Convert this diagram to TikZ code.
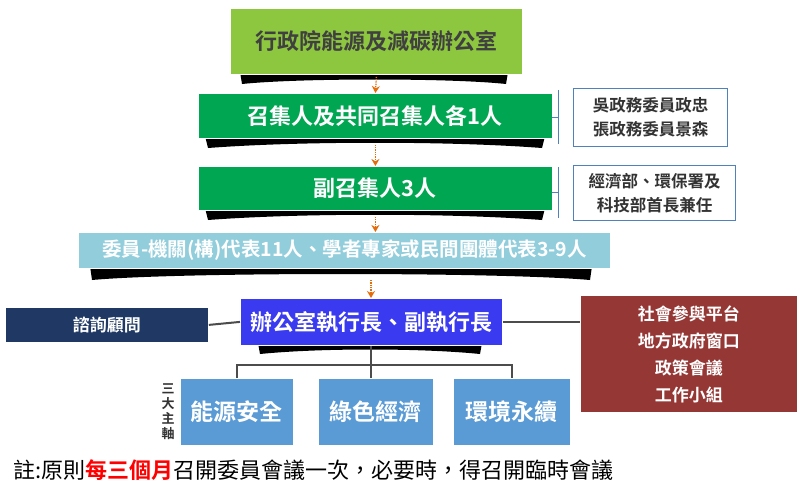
\documentclass[tikz,border=0pt]{standalone}
\usepackage{fontspec}
\setmainfont{Noto Sans CJK TC}
\newfontfamily\cjkb{Noto Sans CJK TC Bold}
\usetikzlibrary{arrows.meta}
\definecolor{lg}{HTML}{8DC63F}
\definecolor{dg}{HTML}{00A651}
\definecolor{lb}{HTML}{92CDDC}
\definecolor{nv}{HTML}{1F3864}
\definecolor{rd}{HTML}{953735}
\definecolor{bb}{HTML}{5B9BD5}
\definecolor{bbl}{HTML}{3A3AF0}
\definecolor{brk}{HTML}{4F81BD}
\definecolor{org}{HTML}{E46C0A}
\begin{document}
\begin{tikzpicture}[x=1pt,y=-1pt,
  bx/.style={anchor=north west,inner sep=0pt,text=white,font=\cjkb\fontsize{22}{26}\selectfont,draw=white,line width=0.8pt},
  sd/.style={fill=black},
  dar/.style={org,densely dotted,line width=1.3pt,-{Stealth[length=7pt,width=8pt]}},
  ln/.style={draw=black!70,line width=2pt},
  side/.style={anchor=north west,draw=brk,line width=1pt,fill=white,align=center,inner sep=0pt,font=\cjkb\fontsize{16.5}{24}\selectfont,text=black!80}]
\useasboundingbox (0,0) rectangle (800,498);
\fill[white] (0,0) rectangle (800,498);
% shadows
\fill[sd] (240,72) -- (508,72) -- (506,84) .. controls (450,78) and (300,78) .. (242,84) -- cycle;
\fill[sd] (205,136) -- (545,136) -- (542,148) .. controls (450,141) and (300,141) .. (208,148) -- cycle;
\fill[sd] (205,208) -- (545,208) -- (542,220) .. controls (450,213) and (300,213) .. (208,220) -- cycle;
\fill[sd] (90,266) -- (592,266) -- (590,280) .. controls (500,272) and (180,272) .. (92,280) -- cycle;
\fill[sd] (258,343) -- (482,343) -- (480,354) .. controls (420,348) and (320,348) .. (260,354) -- cycle;
% boxes
\node[bx,fill=lg,minimum width=292,minimum height=66,text=black!75] (top) at (230,8) {行政院能源及減碳辦公室};
\node[bx,fill=dg,minimum width=354,minimum height=45] (conv) at (198,93) {召集人及共同召集人各1人};
\node[bx,fill=dg,minimum width=354,minimum height=44] (dep) at (198,166) {副召集人3人};
\node[bx,fill=lb,minimum width=532,minimum height=36,text=white,font=\cjkb\fontsize{19.5}{22}\selectfont] (mem) at (78,232) {委員-機關(構)代表11人、學者專家或民間團體代表3-9人};
\node[bx,fill=bbl,minimum width=262,minimum height=47] (off) at (240,298) {辦公室執行長、副執行長};
\node[bx,fill=nv,minimum width=203,minimum height=35,font=\cjkb\fontsize{17}{20}\selectfont] (adv) at (5,307) {諮詢顧問};
\node[bx,fill=rd,minimum width=217,minimum height=117,align=center,font=\cjkb\fontsize{17}{27}\selectfont] (soc) at (580,295) {社會參與平台\\地方政府窗口\\政策會議\\工作小組};
\node[bx,fill=bb,minimum width=113,minimum height=67,font=\cjkb\fontsize{23}{26}\selectfont] (p1) at (180,378) {能源安全};
\node[bx,fill=bb,minimum width=115,minimum height=67,font=\cjkb\fontsize{23}{26}\selectfont] (p2) at (318,378) {綠色經濟};
\node[bx,fill=bb,minimum width=117,minimum height=67,font=\cjkb\fontsize{23}{26}\selectfont] (p3) at (453,378) {環境永續};
\node[side,minimum width=154,minimum height=58] (s1) at (573,88) {吳政務委員政忠\\張政務委員景森};
\node[side,minimum width=162,minimum height=55] (s2) at (573,165) {經濟部、環保署及\\科技部首長兼任};
% brackets
\draw[brk,line width=1pt] (558,90)--(558,144) (552,117)--(558,117);
\draw[brk,line width=1pt] (558,167)--(558,218) (552,192)--(558,192);
% arrows
\draw[dar] (top.south) ++(0,2) -- (conv.north);
\draw[dar] (conv.south) ++(0,6) -- (dep.north);
\draw[dar] (dep.south) ++(0,6) -- (mem.north -| dep.south);
\draw[dar] (371,280) -- (off.north -| 371,0);
% lines
\coordinate (j) at (371,365);
\draw[ln] (off.south -| j) -- (j);
\draw[ln] (p1.north) |- (j) -| (p3.north);
\draw[ln] (j) -- (p2.north -| j);
\draw[ln] (adv.east) -- (off.west);
\draw[ln] (off.east) -- (soc.west |- off.east);
\node[font=\cjkb\fontsize{13}{15}\selectfont,align=center,text=black!80] (lab) at (168,412) {三\\大\\主\\軸};
\node[anchor=west,font=\fontsize{22}{26}\selectfont] (note) at (10,470) {註:原則{\cjkb\color{red}每三個月}召開委員會議一次，必要時，得召開臨時會議};
\end{tikzpicture}
\end{document}
